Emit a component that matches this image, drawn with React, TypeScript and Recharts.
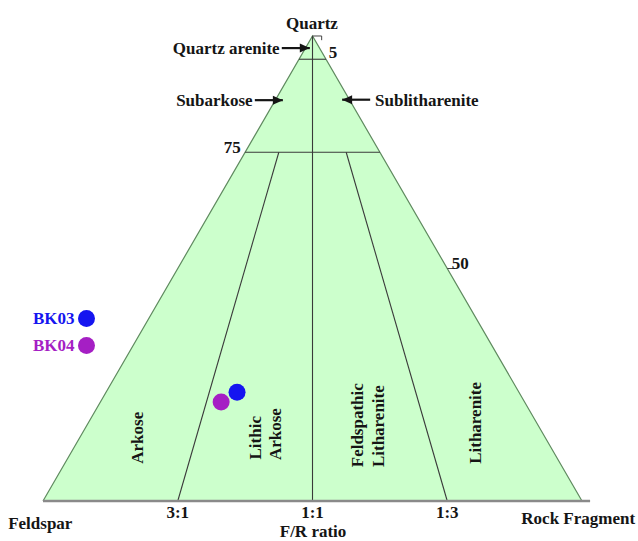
import React from 'react';
import {
  ComposedChart, Area, Scatter, XAxis, YAxis, ReferenceLine, ReferenceDot, Label, Legend
} from 'recharts';

// ternary composition: quartz, feldspar, rock fragment (percent)
interface Tern {
  q: number;
  f: number;
  r: number;
}

const corners: Tern[] = [
  { q: 0, f: 100, r: 0 },
  { q: 100, f: 0, r: 0 },
  { q: 0, f: 0, r: 100 },
];

// Folk (1974) class boundaries
const line95: Tern[] = [{ q: 95, f: 5, r: 0 }, { q: 95, f: 0, r: 5 }];
const line75: Tern[] = [{ q: 75, f: 25, r: 0 }, { q: 75, f: 0, r: 25 }];
const ratio1to1: Tern[] = [{ q: 100, f: 0, r: 0 }, { q: 0, f: 50, r: 50 }];
const ratio3to1: Tern[] = [{ q: 75, f: 18.75, r: 6.25 }, { q: 0, f: 75, r: 25 }];
const ratio1to3: Tern[] = [{ q: 75, f: 6.25, r: 18.75 }, { q: 0, f: 25, r: 75 }];

// samples
const sampleNames = ['BK03', 'BK04'];
const sampleQ = [23.4, 21.3];
const sampleF = [52.3, 56.3];
const sampleR = [24.3, 22.4];
const sampleColors = ['#1515f0', '#a51fc4'];

// F/R ratio ticks on the base
const ratioLabels = ['3:1', '1:1', '1:3'];
const ratioRockShare = [25, 50, 75];

const toXY = (t: Tern) => {
  const sum = t.q + t.f + t.r;
  const q = (t.q / sum) * 100;
  const r = (t.r / sum) * 100;
  return { x: r + q / 2, y: q };
};

const seg = (pts: Tern[]) => pts.map(toXY) as [{ x: number; y: number }, { x: number; y: number }];

const triangleData = [corners[0], corners[1], corners[2]].map(toXY);

const boundaries = [line95, line75, ratio1to1, ratio3to1, ratio1to3];

const FONT = '"Liberation Serif", "Times New Roman", serif';
const INK = '#151515';

const W = 638;
const H = 541;

const labelProps = { fill: INK, fontSize: 17, fontWeight: 'bold', fontFamily: FONT };

// annotation anchors, in chart units (x along F->R, y = quartz %)
const classLabels = [
  { text: 'Arkose', x: 17.4, y: 13.6 },
  { text: 'Lithic', x: 39.3, y: 13.6 },
  { text: 'Arkose', x: 43.0, y: 14.4 },
  { text: 'Feldspathic', x: 58.3, y: 16.3 },
  { text: 'Litharenite', x: 62.2, y: 16.1 },
  { text: 'Litharenite', x: 80.2, y: 16.8 },
];

const arrowHead = (dir: number) => (p: any) => (
  <polygon
    points={`${p.cx},${p.cy} ${p.cx - 10 * dir},${p.cy - 4.5} ${p.cx - 10 * dir},${p.cy + 4.5}`}
    fill={INK}
  />
);

const arrows = [
  { from: { x: 44.3, y: 97.4 }, to: { x: 49.5, y: 97.4 }, dir: 1 },
  { from: { x: 39.3, y: 86.2 }, to: { x: 44.5, y: 86.2 }, dir: 1 },
  { from: { x: 60.7, y: 86.3 }, to: { x: 55.5, y: 86.3 }, dir: -1 },
];

const LegendContent = (props: any) => {
  const payload = (props.payload || []).filter((e: any) => sampleNames.includes(e.value));
  return (
    <div>
      {payload.map((e: any) => (
        <div key={e.value} style={{ display: 'flex', alignItems: 'center', height: 27 }}>
          <span style={{ color: e.color, fontFamily: FONT, fontWeight: 'bold', fontSize: 17 }}>{e.value}</span>
          <span
            style={{
              display: 'inline-block', width: 17, height: 17, borderRadius: '50%',
              background: e.color, marginLeft: 3,
            }}
          />
        </div>
      ))}
    </div>
  );
};

const App: React.FC = () => {
  const samples = sampleNames.map((name, i) => ({
    name,
    ...toXY({ q: sampleQ[i], f: sampleF[i], r: sampleR[i] }),
  }));

  return (
    <div style={{ position: 'absolute', left: 0, top: 0, width: W, height: H, background: '#fff' }}>
      <ComposedChart width={W} height={H} margin={{ top: 0, right: 0, bottom: 0, left: 0 }}>
        <XAxis type="number" dataKey="x" domain={[-7.98, 110.39]} allowDataOverflow hide />
        <YAxis type="number" dataKey="y" domain={[-8.6, 107.74]} allowDataOverflow hide />

        <Area
          data={triangleData}
          dataKey="y"
          type="linear"
          baseValue={0}
          fill="#ccffcc"
          fillOpacity={1}
          stroke="#5f8a5f"
          strokeWidth={1.2}
          dot={false}
          activeDot={false}
          legendType="none"
          isAnimationActive={false}
        />

        {boundaries.map((b, i) => (
          <ReferenceLine key={`b${i}`} segment={seg(b)} stroke="#3a3a3a" strokeWidth={1.1} ifOverflow="visible" />
        ))}

        {/* base line */}
        <ReferenceLine segment={[{ x: 0, y: 0 }, { x: 101.5, y: 0 }]} stroke="#8a8a8a" strokeWidth={2.5} ifOverflow="visible" />
        {/* apex tick */}
        <ReferenceLine segment={[{ x: 50, y: 100 }, { x: 51.7, y: 100 }]} stroke="#444" strokeWidth={1} ifOverflow="visible" />
        <ReferenceLine segment={[{ x: 51.7, y: 100 }, { x: 51.7, y: 99.1 }]} stroke="#444" strokeWidth={1} ifOverflow="visible" />
        {/* 50 tick */}
        <ReferenceLine segment={[{ x: 75, y: 50 }, { x: 76.1, y: 50 }]} stroke="#444" strokeWidth={1} ifOverflow="visible" />

        {arrows.map((a, i) => (
          <ReferenceLine key={`a${i}`} segment={[a.from, a.to]} stroke={INK} strokeWidth={2.2} ifOverflow="visible" />
        ))}
        {arrows.map((a, i) => (
          <ReferenceDot key={`h${i}`} x={a.to.x} y={a.to.y} r={0} shape={arrowHead(a.dir)} ifOverflow="visible" />
        ))}

        {/* corner and axis texts */}
        <ReferenceDot x={49.9} y={102.7} r={0} fill="none" stroke="none" ifOverflow="visible">
          <Label value="Quartz" position="center" {...labelProps} />
        </ReferenceDot>
        <ReferenceDot x={-0.5} y={-4.7} r={0} fill="none" stroke="none" ifOverflow="visible">
          <Label value="Feldspar" position="center" {...labelProps} />
        </ReferenceDot>
        <ReferenceDot x={99.3} y={-3.7} r={0} fill="none" stroke="none" ifOverflow="visible">
          <Label value="Rock Fragment" position="center" {...labelProps} />
        </ReferenceDot>
        <ReferenceDot x={50.1} y={-6.5} r={0} fill="none" stroke="none" ifOverflow="visible">
          <Label value="F/R ratio" position="center" {...labelProps} />
        </ReferenceDot>
        {ratioLabels.map((t, i) => (
          <ReferenceDot key={t} x={ratioRockShare[i]} y={-2.4} r={0} fill="none" stroke="none" ifOverflow="visible">
            <Label value={t} position="center" {...labelProps} />
          </ReferenceDot>
        ))}

        {/* quartz levels */}
        <ReferenceDot x={53.8} y={96.5} r={0} fill="none" stroke="none" ifOverflow="visible">
          <Label value="5" position="center" {...labelProps} />
        </ReferenceDot>
        <ReferenceDot x={35.1} y={76.1} r={0} fill="none" stroke="none" ifOverflow="visible">
          <Label value="75" position="center" {...labelProps} />
        </ReferenceDot>
        <ReferenceDot x={77.4} y={51.2} r={0} fill="none" stroke="none" ifOverflow="visible">
          <Label value="50" position="center" {...labelProps} />
        </ReferenceDot>

        {/* upper classes with arrows */}
        <ReferenceDot x={43.9} y={97.4} r={0} fill="none" stroke="none" ifOverflow="visible">
          <Label value="Quartz arenite" position="left" offset={0} {...labelProps} />
        </ReferenceDot>
        <ReferenceDot x={38.9} y={86.2} r={0} fill="none" stroke="none" ifOverflow="visible">
          <Label value="Subarkose" position="left" offset={0} {...labelProps} />
        </ReferenceDot>
        <ReferenceDot x={61.6} y={86.3} r={0} fill="none" stroke="none" ifOverflow="visible">
          <Label value="Sublitharenite" position="right" offset={0} {...labelProps} />
        </ReferenceDot>

        {classLabels.map((c, i) => (
          <ReferenceDot key={`c${i}`} x={c.x} y={c.y} r={0} fill="none" stroke="none" ifOverflow="visible">
            <Label value={c.text} position="center" angle={-90} {...labelProps} />
          </ReferenceDot>
        ))}

        {samples.map((s, i) => (
          <Scatter
            key={s.name}
            name={s.name}
            data={[s]}
            fill={sampleColors[i]}
            shape={(p: any) => <circle cx={p.cx} cy={p.cy} r={8.5} fill={sampleColors[i]} />}
            isAnimationActive={false}
          />
        ))}

        <Legend
          layout="horizontal"
          verticalAlign="middle"
          align="center"
          wrapperStyle={{ left: 33, top: 305, width: 'auto', height: 'auto' }}
          content={<LegendContent />}
        />
      </ComposedChart>
    </div>
  );
};

export default App;
